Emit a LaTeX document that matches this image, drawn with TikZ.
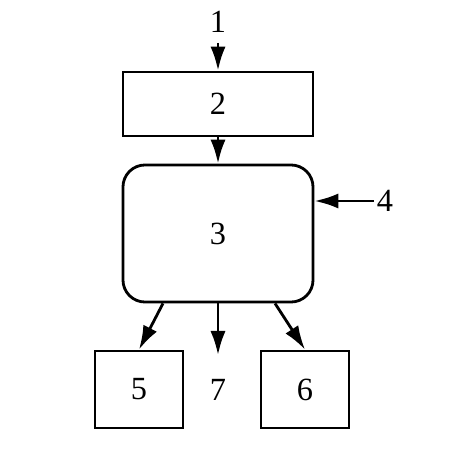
\documentclass[tikz,border=0pt]{standalone}
\usepackage{fontspec}
\setmainfont{Liberation Serif}
\usetikzlibrary{positioning,calc,arrows.meta}
\tikzset{blk/.style={draw,line width=2pt,minimum width=4.75cm,minimum height=1.6cm,inner sep=0pt}  }
\tikzset{smallblk/.style={draw,line width=2pt,minimum width=2.2cm,minimum height=1.925cm,inner sep=0pt}  }
\tikzset{lbl/.style={inner sep=1pt}  }
\tikzset{>={Latex[length=6mm,width=3.8mm]}}

\begin{document}
\begin{tikzpicture}[x=0.025cm,y=-0.025cm,line width=2pt,font=\fontsize{23}{27}\selectfont]
	\useasboundingbox (0,0) rectangle (449,457);
		\node[blk] (b2) at (218,104) {2};
		\node[blk,minimum height=3.425cm,rounded corners=0.55cm] (b3) at (218,233.5) {3};
		\node[smallblk] (b5) at (139,389.5) {5};
		\node[smallblk] (b6) at (305,389.5) {6};

		\node[lbl] (l1) at (218,22) {1};
		\node[lbl] (l4) at (385,201) {4};
		\node[lbl] (l7) at (218,390) {7};
		\coordinate (t1) at (218,43);
		\coordinate (t7) at (218,355);

			\draw[->] (t1) -- (b2.north);
			\draw[->] (b2.south) -- (b3.north);
			\draw[->] (l4.west) -- (l4 -| b3.east);
			\draw[->] ([xshift=-1.375cm]b3.south) -- (b5.north);
			\draw[->] (b3.south) -- (t7);
			\draw[->] ([xshift=1.425cm]b3.south) -- (b6.north);
	\end{tikzpicture}
\end{document}
